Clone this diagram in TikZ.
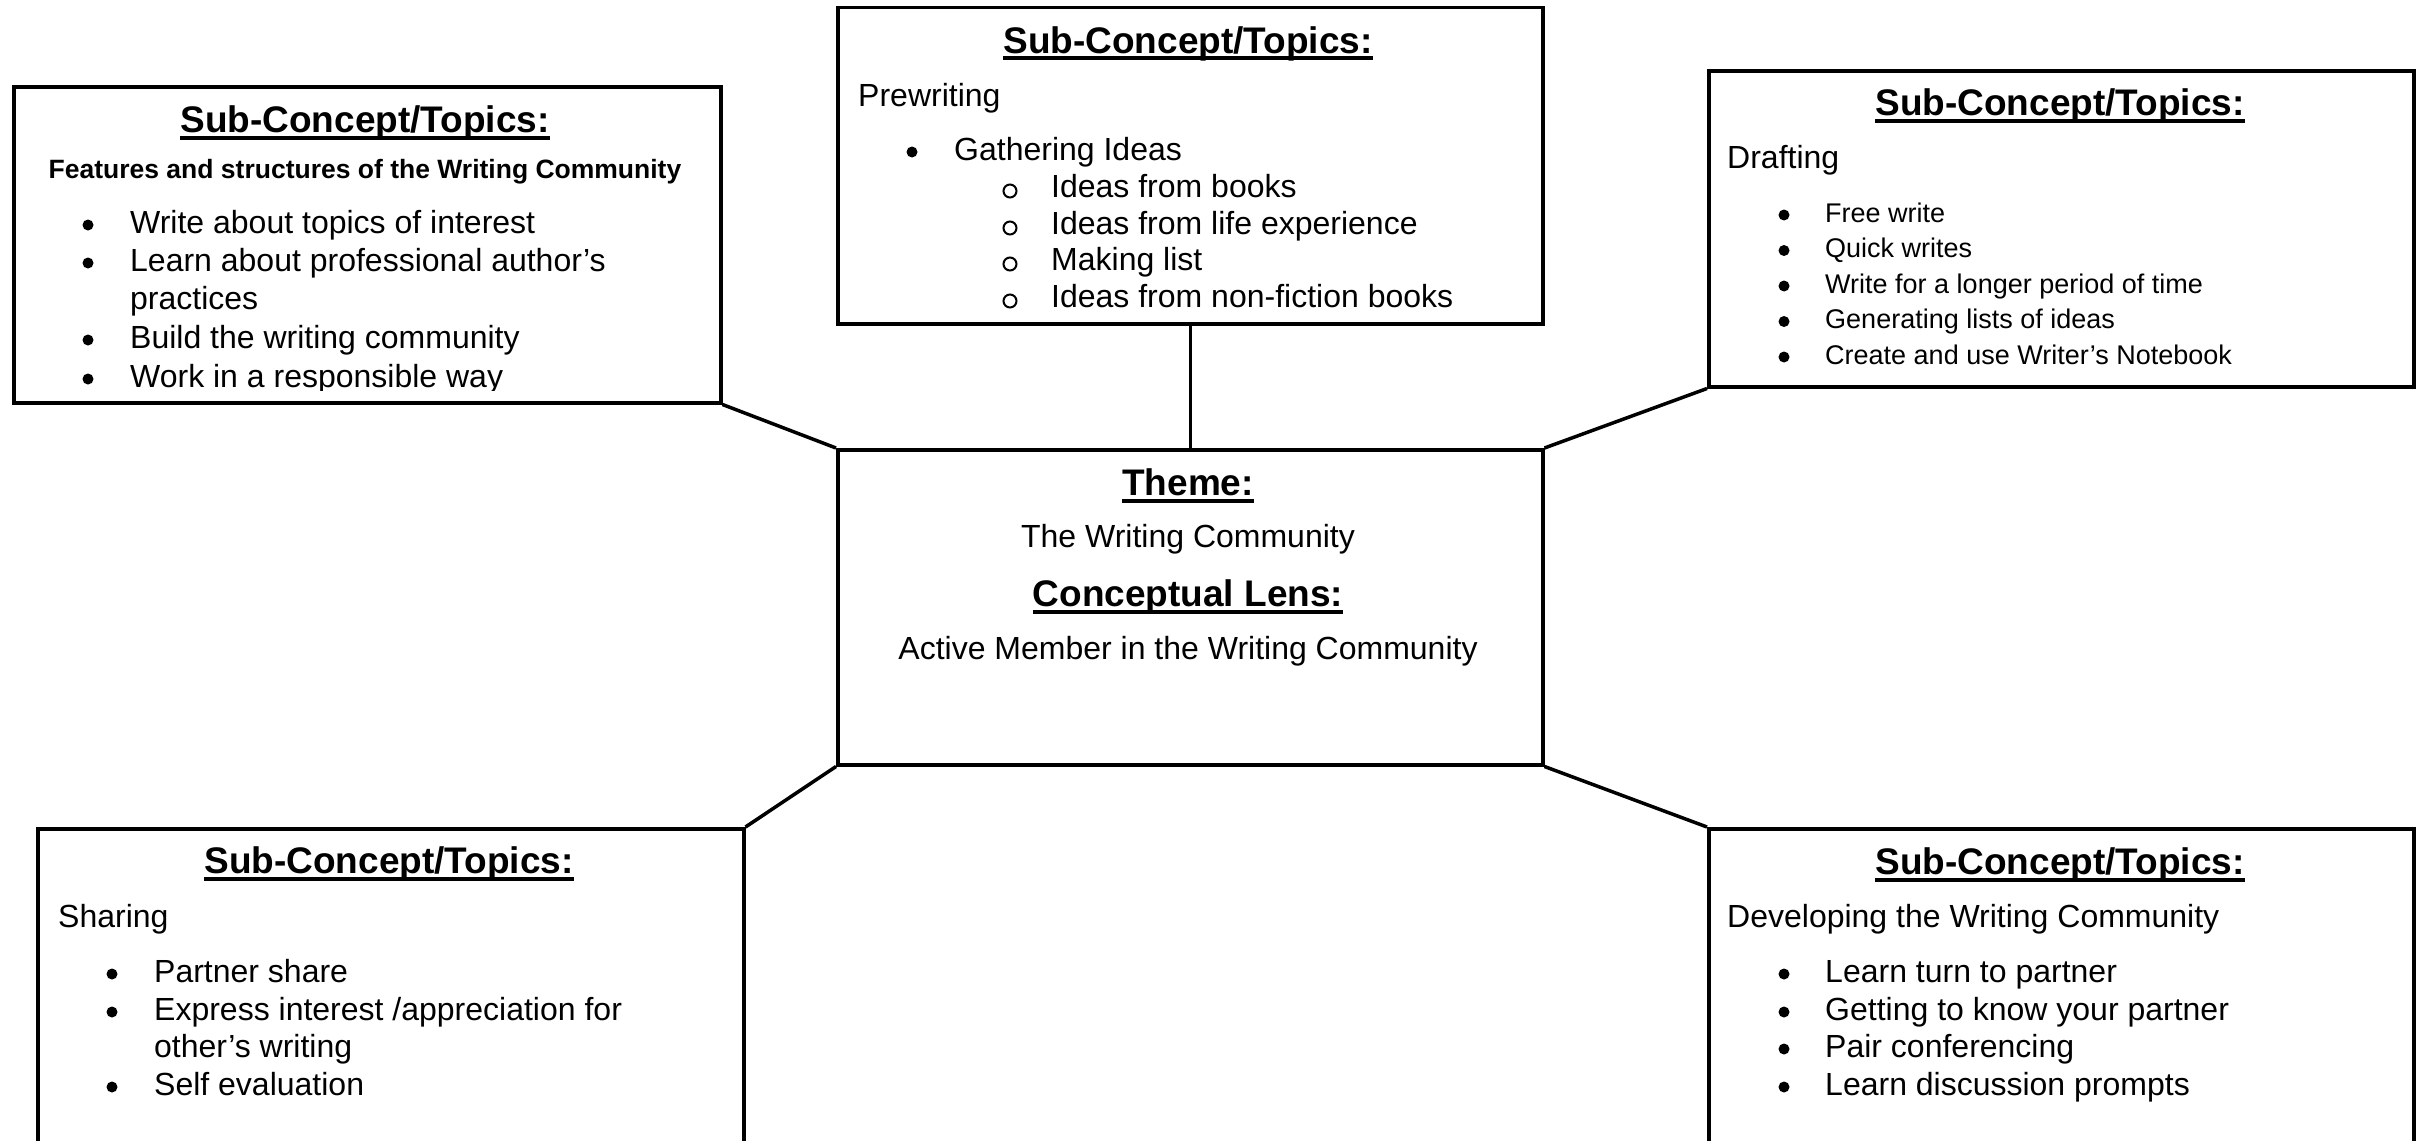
\documentclass[tikz,border=0pt]{standalone}
\usepackage{fontspec}
\setmainfont{Liberation Sans}
\newcommand\hul[1]{\setbox0\hbox{#1}\rlap{\rule[-7.5pt]{\wd0}{4pt}}\box0}
\tikzset{
  box/.style={draw, line width=3.5pt, anchor=north west, inner sep=0pt},
  conn/.style={line width=3.5pt},
  head/.style={font=\fontsize{37}{40}\selectfont\bfseries, anchor=base, inner sep=0pt},
  subhead/.style={font=\fontsize{26.5}{30}\selectfont\bfseries, anchor=base, inner sep=0pt},
  body/.style={font=\fontsize{32}{37}\selectfont, anchor=base west, inner sep=0pt},
  bodyc/.style={font=\fontsize{32}{37}\selectfont, anchor=base, inner sep=0pt},
  small/.style={font=\fontsize{27}{32}\selectfont, anchor=base west, inner sep=0pt},
  dot/.style={circle, fill, inner sep=0pt, minimum size=11pt},
  ring/.style={circle, draw, line width=2pt, inner sep=0pt, minimum size=13pt},
}
\begin{document}
\begin{tikzpicture}[x=1pt,y=-1pt]
\useasboundingbox (0,0) rectangle (2424,1140);
\clip (0,0) rectangle (2424,1140);
\fill[white] (0,0) rectangle (2424,1140);

% boxes
\node[box, minimum width=707pt, minimum height=316pt] (tl) at (12,85) {};
\node[box, minimum width=705pt, minimum height=316pt] (tc) at (836,6) {};
\node[box, minimum width=705pt, minimum height=316pt] (tr) at (1707,69) {};
\node[box, minimum width=705pt, minimum height=315pt] (ce) at (836,448) {};
\node[box, minimum width=706pt, minimum height=420pt] (bl) at (36,827) {};
\node[box, minimum width=705pt, minimum height=420pt] (br) at (1707,827) {};

% connectors
\draw[conn] (tc.south) -- (ce.north);
\draw[conn] (tl.south east) -- (ce.north west);
\draw[conn] (tr.south west) -- (ce.north east);
\draw[conn] (ce.south west) -- (bl.north east);
\draw[conn] (ce.south east) -- (br.north west);

% top-left box
\node[head] (tlh) at (365,132) {\hul{Sub-Concept/Topics:}};
\node[subhead] (tls) at (365,178) {Features and structures of the Writing Community};
\begin{scope}
\clip (14,87) rectangle (717,390);
\foreach \y/\n in {233/1,271/2,348/3,387/4} \node[dot] (tlb\n) at (88,\y-8) {};
\node[body] (tlt1) at (130,233) {Write about topics of interest};
\node[body] (tlt2) at (130,271) {Learn about professional author’s};
\node[body] (tlt3) at (130,309) {practices};
\node[body] (tlt4) at (130,348) {Build the writing community};
\node[body] (tlt5) at (130,387) {Work in a responsible way};
\end{scope}

% top-centre box
\node[head] (tch) at (1188,53) {\hul{Sub-Concept/Topics:}};
\node[body] (tcp) at (858,106) {Prewriting};
\node[dot] (tcb) at (912,152) {};
\node[body] (tcg) at (954,160) {Gathering Ideas};
\foreach \y/\n in {197/1,234/2,270/3,307/4} \node[ring] (tco\n) at (1010,\y-6) {};
\node[body] (tct1) at (1051,197) {Ideas from books};
\node[body] (tct2) at (1051,234) {Ideas from life experience};
\node[body] (tct3) at (1051,270) {Making list};
\node[body] (tct4) at (1051,307) {Ideas from non-fiction books};

% top-right box
\node[head] (trh) at (2060,115) {\hul{Sub-Concept/Topics:}};
\node[body] (trd) at (1727,168) {Drafting};
\foreach \y/\n in {222/1,257.5/2,293/3,328.5/4,364/5} \node[dot] (trb\n) at (1784,\y-7) {};
\node[small] (trt1) at (1825,222) {Free write};
\node[small] (trt2) at (1825,257.5) {Quick writes};
\node[small] (trt3) at (1825,293) {Write for a longer period of time};
\node[small] (trt4) at (1825,328.5) {Generating lists of ideas};
\node[small] (trt5) at (1825,364) {Create and use Writer’s Notebook};

% centre box
\node[head] (ceh1) at (1188,495) {\hul{Theme:}};
\node[bodyc] (cet1) at (1188,547) {The Writing Community};
\node[head] (ceh2) at (1188,606) {\hul{Conceptual Lens:}};
\node[bodyc] (cet2) at (1188,659) {Active Member in the Writing Community};

% bottom-left box
\node[head] (blh) at (389,873) {\hul{Sub-Concept/Topics:}};
\node[body] (bls) at (58,927) {Sharing};
\foreach \y/\n in {982/1,1020/2,1095/3} \node[dot] (blb\n) at (112,\y-8) {};
\node[body] (blt1) at (154,982) {Partner share};
\node[body] (blt2) at (154,1020) {Express interest /appreciation for};
\node[body] (blt3) at (154,1057) {other’s writing};
\node[body] (blt4) at (154,1095) {Self evaluation};

% bottom-right box
\node[head] (brh) at (2060,874) {\hul{Sub-Concept/Topics:}};
\node[body] (brd) at (1727,927) {Developing the Writing Community};
\foreach \y/\n in {982/1,1020/2,1057/3,1095/4} \node[dot] (brb\n) at (1784,\y-8) {};
\node[body] (brt1) at (1825,982) {Learn turn to partner};
\node[body] (brt2) at (1825,1020) {Getting to know your partner};
\node[body] (brt3) at (1825,1057) {Pair conferencing};
\node[body] (brt4) at (1825,1095) {Learn discussion prompts};
\end{tikzpicture}
\end{document}
